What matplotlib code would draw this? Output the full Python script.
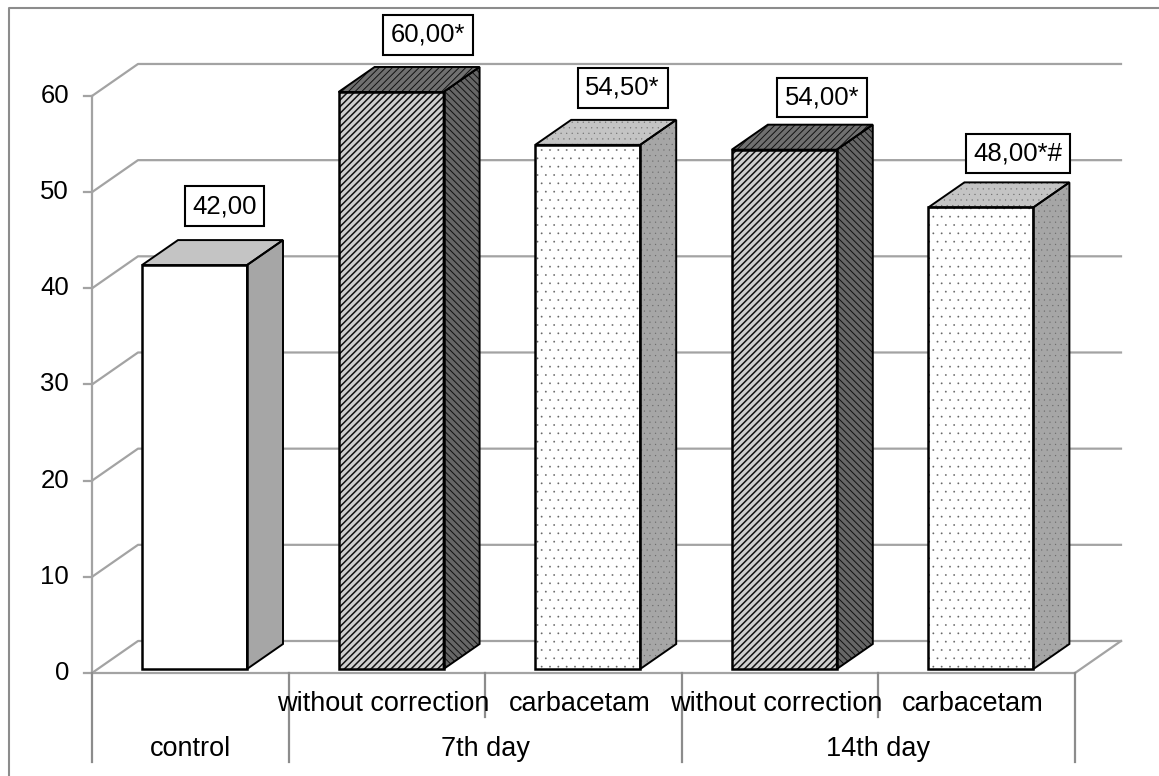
import matplotlib
matplotlib.use("Agg")
import matplotlib.pyplot as plt
from matplotlib.patches import Polygon

plt.rcParams['font.family'] = ['Liberation Sans', 'DejaVu Sans']

groups = ["control", "7th day", "14th day"]
group_spans = [(0, 1), (1, 3), (3, 5)]
categories = ["", "without correction", "carbacetam", "without correction", "carbacetam"]
values = [42.0, 60.0, 54.5, 54.0, 48.0]
labels = ["42,00", "60,00*", "54,50*", "54,00*", "48,00*#"]
yticks = [0, 10, 20, 30, 40, 50, 60]
styles = ["plain", "dark", "dots", "dark", "dots"]

# size of one category / one y unit in pixels
px_x = 196.6
px_y = 9.617
x0_px = 92
y0_px = 673
depth_x = 46 / px_x
depth_y = 32 / px_y
bar_dx = 36 / px_x
bar_dy = 25 / px_y
bar_left = 50 / px_x
bar_w = 105 / px_x
lift = 4 / px_y
grey = "#a3a3a3"

# label box offset from bar centre and bar top, in pixels
label_dx = [30, 37, 35, 38, 37]
label_dy = [59, 57, 57, 52, 54]

fig = plt.figure(figsize=(11.59, 7.76), dpi=100)
ax = fig.add_axes([0, 0, 1, 1])
ax.set_xlim(-x0_px / px_x, (1159 - x0_px) / px_x)
ax.set_ylim((y0_px - 776) / px_y, y0_px / px_y)
ax.axis("off")

# outer frame, only left and top are in the picture
fx0, fx1 = (9 - x0_px) / px_x, (1159 - x0_px) / px_x
fy0, fy1 = (y0_px - 776) / px_y, (y0_px - 8) / px_y
ax.plot([fx0, fx0, fx1], [fy0, fy1, fy1], color="#8c8c8c", lw=1.5, zorder=1)

# walls and grid
n = len(values)
for t in yticks:
    ax.plot([0, depth_x, n + depth_x], [t, t + depth_y, t + depth_y], color=grey, lw=1.6, zorder=2)
ax.plot([n, n + depth_x], [0, depth_y], color=grey, lw=1.6, zorder=2)
ax.plot([0, 0], [0, 60], color=grey, lw=1.6, zorder=2)
ax.plot([0, n], [0, 0], color=grey, lw=1.6, zorder=2)
tick_len = 8 / px_x
for t in yticks:
    ax.plot([-tick_len, 0], [t, t], color=grey, lw=1.6, zorder=2)
    ax.text(-23 / px_x, t, str(t), ha="right", va="center", fontsize=18.5)

# two level category axis
row1 = -44 / px_y
row2 = -89 / px_y
for i in range(n + 1):
    low = row2 if i in (0, 1, 3, 5) else row1
    ax.plot([i, i], [0, low], color="#8c8c8c", lw=1.6, zorder=2)
for i, c in enumerate(categories):
    ax.text(i + 0.48, -31 / px_y, c, ha="center", va="center", fontsize=19.5, zorder=6)
for g, (a, b) in zip(groups, group_spans):
    ax.text((a + b) / 2, -76 / px_y, g, ha="center", va="center", fontsize=19.5, zorder=6)

# front colour, hatch, side colour, hatch, roof colour, hatch, hatch colour, hatch width
face = {"plain": ("white", None, "#a6a6a6", None, "#c4c4c4", None, "#777777", 0.5),
        "dark": ("#cfcfcf", "/////", "#666666", "\\\\\\\\\\", "#707070", "/////", "#111111", 1.1),
        "dots": ("white", "..", "#a6a6a6", "...", "#c4c4c4", "...", "#666666", 0.1)}

for i, (v, lab, st) in enumerate(zip(values, labels, styles)):
    x = i + bar_left
    top = v + lift
    f_col, f_h, s_col, s_h, t_col, t_h, hatch_col, hatch_lw = face[st]
    side = [(x + bar_w, lift), (x + bar_w + bar_dx, lift + bar_dy),
            (x + bar_w + bar_dx, top + bar_dy), (x + bar_w, top)]
    roof = [(x, top), (x + bar_dx, top + bar_dy), (x + bar_w + bar_dx, top + bar_dy), (x + bar_w, top)]
    # sides get a thinner hatch than the front
    plt.rcParams['hatch.linewidth'] = min(hatch_lw, 0.7)
    for pts, col, h in ((side, s_col, s_h), (roof, t_col, t_h)):
        ax.add_patch(Polygon(pts, facecolor=col, edgecolor=hatch_col, hatch=h, lw=0, zorder=3))
        ax.add_patch(Polygon(pts, fill=False, edgecolor="black", lw=1.4, zorder=4))
    plt.rcParams['hatch.linewidth'] = hatch_lw
    ax.bar(x, v, bar_w, bottom=lift, align="edge", color=f_col, edgecolor=hatch_col, hatch=f_h, lw=0, zorder=3)
    ax.bar(x, v, bar_w, bottom=lift, align="edge", fill=False, edgecolor="black", lw=1.8, zorder=4)
    ax.text(x + bar_w / 2 + label_dx[i] / px_x, top + label_dy[i] / px_y, lab, ha="center", va="center",
            fontsize=18.5, zorder=7,
            bbox=dict(boxstyle="square,pad=0.3", fc="white", ec="black", lw=1.5))

fig.savefig("out.png", dpi=100)
